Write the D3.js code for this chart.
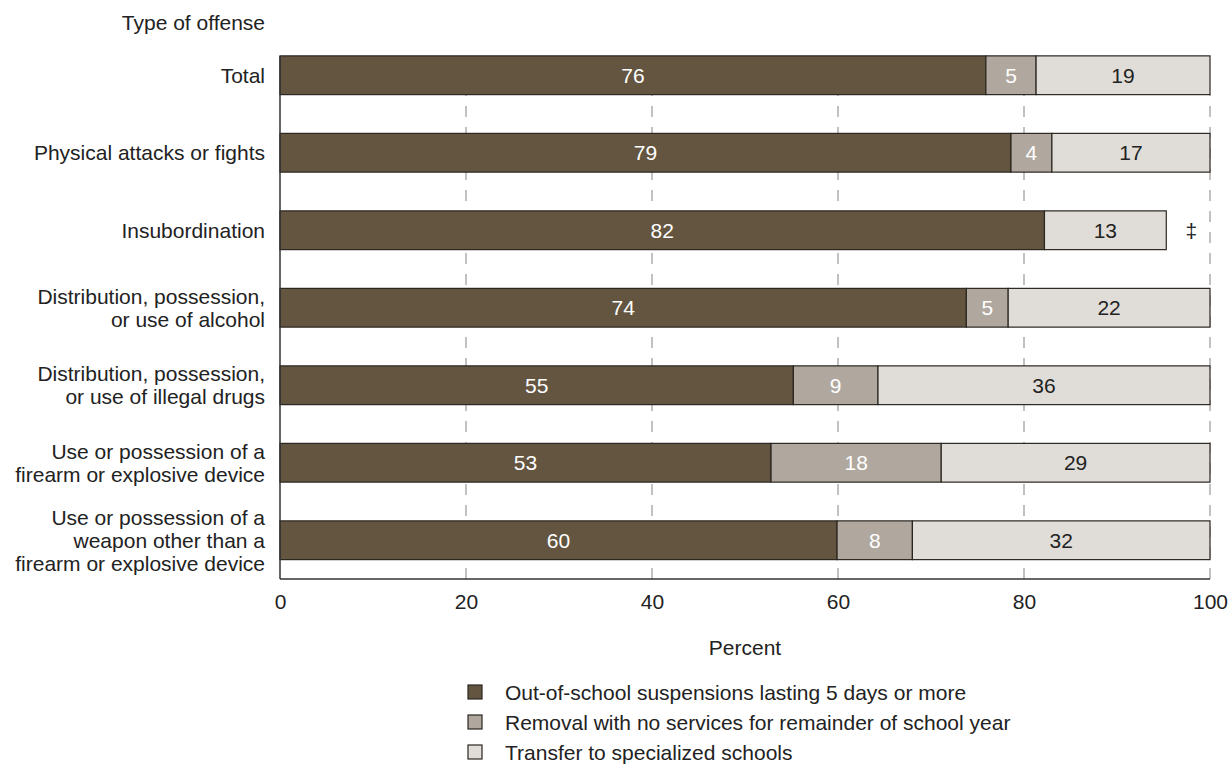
<!DOCTYPE html>
<html>
<head>
<meta charset="utf-8">
<script src="https://cdn.jsdelivr.net/npm/d3@7"></script>
<style>
  html, body { margin: 0; padding: 0; background: #fff; }
  svg { display: block; }
  text { font-family: "Liberation Sans", Arial, sans-serif; }
</style>
</head>
<body>
<svg id="chart" width="1232" height="764"></svg>
<script>
// ---- Data ----
const categories = [
  "Total",
  "Physical attacks or fights",
  "Insubordination",
  "Distribution, possession,|or use of alcohol",
  "Distribution, possession,|or use of illegal drugs",
  "Use or possession of a|firearm or explosive device",
  "Use or possession of a|weapon other than a|firearm or explosive device"
];
const suspensions = [75.9, 78.6, 82.2, 73.8, 55.2, 52.8, 59.9];
const removal     = [5.4, 4.4, null, 4.5, 9.1, 18.3, 8.1];
const transfer    = [18.7, 17.0, 13.1, 21.7, 35.7, 28.9, 32.0];
const seriesNames = [
  "Out-of-school suspensions lasting 5 days or more",
  "Removal with no services for remainder of school year",
  "Transfer to specialized schools"
];
const tickValues = [0, 20, 40, 60, 80, 100];
const footnoteMark = "‡"; // reporting standards not met (Insubordination removal)

// ---- Layout ----
const colors = ["#63553f", "#b0a89f", "#e0ddd8"];
const labelColors = ["#ffffff", "#ffffff", "#222222"];
const svg = d3.select("#chart");
const FS = 21;

const x = d3.scaleLinear().domain([0, 100]).range([280, 1210]);
const y = d3.scaleBand().domain(categories).range([36.5, 579]).paddingInner(0.5).paddingOuter(0.25);
const axisY = 579;

// gridlines (dashed)
svg.append("g").selectAll("line").data(tickValues.filter(d => d > 0)).join("line")
  .attr("x1", d => x(d)).attr("x2", d => x(d))
  .attr("y1", axisY).attr("y2", y(categories[0]) + y.bandwidth())
  .attr("stroke", "#adadad").attr("stroke-width", 1.5)
  .attr("stroke-dasharray", "11,10");

// stacked data
const seriesArrays = [suspensions, removal, transfer];
const rows = categories.map((c, i) => {
  let acc = 0;
  return seriesArrays.map((arr, s) => {
    const v = arr[i];
    const seg = { cat: c, s, v, x0: acc, x1: acc + (v || 0) };
    acc += (v || 0);
    return seg;
  }).filter(d => d.v != null);
});
const segs = rows.flat();

const gBars = svg.append("g");
gBars.selectAll("rect").data(segs).join("rect")
  .attr("x", d => x(d.x0))
  .attr("y", d => y(d.cat))
  .attr("width", d => x(d.x1) - x(d.x0))
  .attr("height", y.bandwidth())
  .attr("fill", d => colors[d.s])
  .attr("stroke", "#2a2620")
  .attr("stroke-width", 1.2);

gBars.selectAll("text").data(segs).join("text")
  .attr("x", d => (x(d.x0) + x(d.x1)) / 2)
  .attr("y", d => y(d.cat) + y.bandwidth() / 2)
  .attr("dy", "0.36em")
  .attr("text-anchor", "middle")
  .attr("font-size", FS)
  .attr("fill", d => labelColors[d.s])
  .text(d => Math.round(d.v));

// footnote mark for Insubordination
const insIdx = 2;
const insEnd = suspensions[insIdx] + transfer[insIdx];
svg.append("text")
  .attr("x", x(insEnd) + 25)
  .attr("y", y(categories[insIdx]) + y.bandwidth() / 2)
  .attr("dy", "0.36em")
  .attr("text-anchor", "middle")
  .attr("font-size", FS)
  .attr("fill", "#222")
  .text(footnoteMark);

// axes lines
svg.append("line")
  .attr("x1", x(0)).attr("x2", x(0))
  .attr("y1", y(categories[0])).attr("y2", axisY)
  .attr("stroke", "#333").attr("stroke-width", 1.5);
svg.append("line")
  .attr("x1", x(0)).attr("x2", x(100))
  .attr("y1", axisY).attr("y2", axisY)
  .attr("stroke", "#333").attr("stroke-width", 1.5);

// x axis tick labels
const xAxis = svg.append("g").attr("transform", `translate(0,${axisY})`)
  .call(d3.axisBottom(x).tickValues(tickValues).tickSize(0).tickPadding(15.5).tickFormat(d3.format("d")));
xAxis.select(".domain").remove();
xAxis.selectAll("text").attr("font-size", FS).attr("fill", "#222")
  .attr("font-family", "'Liberation Sans', Arial, sans-serif");

// category labels
const lineH = 23;
const gCat = svg.append("g");
categories.forEach(c => {
  const lines = c.split("|");
  const cy = y(c) + y.bandwidth() / 2;
  const t = gCat.append("text")
    .attr("text-anchor", "end")
    .attr("font-size", FS)
    .attr("fill", "#222");
  lines.forEach((ln, k) => {
    t.append("tspan")
      .attr("x", 265)
      .attr("y", cy + (k - (lines.length - 1) / 2) * lineH)
      .attr("dy", "0.36em")
      .text(ln);
  });
});

// titles
svg.append("text").attr("x", 265).attr("y", 22).attr("dy", "0.36em")
  .attr("text-anchor", "end").attr("font-size", FS).attr("fill", "#222")
  .text("Type of offense");
svg.append("text").attr("x", (x(0) + x(100)) / 2).attr("y", 647).attr("dy", "0.36em")
  .attr("text-anchor", "middle").attr("font-size", FS).attr("fill", "#222")
  .text("Percent");

// legend
const legY = [692, 722, 752];
const gLeg = svg.append("g");
seriesNames.forEach((name, i) => {
  gLeg.append("rect")
    .attr("x", 468).attr("y", legY[i] - 7).attr("width", 14).attr("height", 14)
    .attr("fill", colors[i]).attr("stroke", "#2a2620").attr("stroke-width", 1.2);
  gLeg.append("text")
    .attr("x", 505).attr("y", legY[i]).attr("dy", "0.36em")
    .attr("font-size", FS).attr("fill", "#222")
    .text(name);
});
</script>
</body>
</html>
